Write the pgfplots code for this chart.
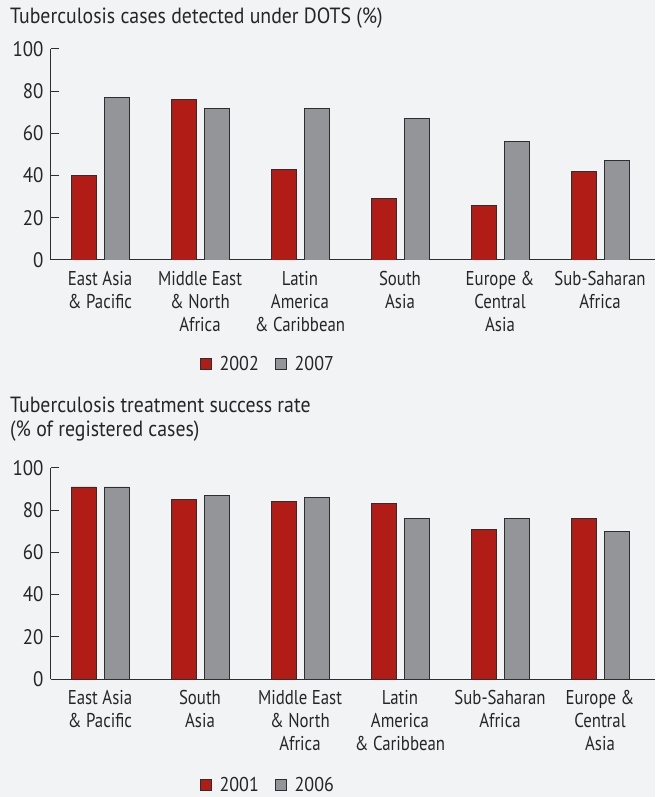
\documentclass[border=0pt]{standalone}
\usepackage{fontspec}
\setmainfont{PT Sans}[FakeStretch=0.84]
\newfontfamily\numfont{PT Sans}[FakeStretch=0.9]
\usepackage{pgfplots}
\pgfplotsset{compat=1.18}
\usepackage{pgfplotstable}

\definecolor{bg}{HTML}{F2F3F5}
\definecolor{tbred}{HTML}{B21C17}
\definecolor{tbgray}{HTML}{939598}
\definecolor{edge}{HTML}{2E2E2E}

% detection rate under DOTS (%)
\pgfplotstableread{
x y2002 y2007
0 40 77
1 76 72
2 43 72
3 29 67
4 26 56
5 42 47
}\detected

% treatment success rate (% of registered cases)
\pgfplotstableread{
x y2001 y2006
0 91 91
1 85 87
2 84 86
3 83 76
4 71 76
5 76 70
}\success

\pgfplotsset{
  tbstyle/.style={
    scale only axis, width=604pt, height=211pt,
    anchor=south west,
    xmin=-0.49, xmax=5.55, ymin=0, ymax=100,
    axis lines*=left,
    axis line style={edge, line width=1pt},
    ybar, bar width=25pt,
    xtick=data, xtick style={draw=none},
    ytick={0,20,40,60,80,100},
    tick align=inside, major tick length=8pt,
    ytick style={edge, line width=1pt},
    /pgf/number format/assume math mode=true,
    yticklabel style={font=\numfont\fontsize{21}{23}\selectfont, text=black!85, xshift=-4pt},
    xticklabel style={font=\fontsize{20}{23}\selectfont, text=black!85, align=center, yshift=-8pt},
    legend columns=2,
    legend style={draw=none, fill=none, font=\numfont\fontsize{20}{23}\selectfont,
      text=black!85, column sep=6pt, /tikz/every even column/.append style={column sep=14pt}},
    legend image code/.code={\draw[#1, ybar] (0pt,-5.5pt) rectangle (11pt,5.5pt);},
  },
  redbar/.style={fill=tbred, draw=edge, line width=0.8pt, bar shift=-16.5pt},
  graybar/.style={fill=tbgray, draw=edge, line width=0.8pt, bar shift=16.5pt},
}

\begin{document}
\begin{tikzpicture}
\fill[bg] (0,0) rectangle (655pt,797pt);

\node[anchor=base west, inner sep=0pt, font=\numfont\fontsize{22}{23}\selectfont, text=black!85]
  at (10pt,773pt) {Tuberculosis cases detected under DOTS (\%)};

\begin{axis}[tbstyle, at={(51pt,537pt)},
  xticklabels={{East Asia\\\& Pacific},{Middle East\\\& North\\Africa},{Latin\\America\\\& Caribbean},{South\\Asia},{Europe \&\\Central\\Asia},{Sub-Saharan\\Africa}},
  legend style={at={(0.359,-0.493)}, anchor=center}]
\addplot[redbar] table[x=x, y=y2002] {\detected};
\addplot[graybar] table[x=x, y=y2007] {\detected};
\legend{2002,2007}
\end{axis}

\node[anchor=base west, inner sep=0pt, font=\numfont\fontsize{22}{24}\selectfont, text=black!85, align=left]
  at (10pt,360pt) {Tuberculosis treatment success rate\\(\% of registered cases)};

\begin{axis}[tbstyle, at={(51pt,118pt)},
  xticklabels={{East Asia\\\& Pacific},{South\\Asia},{Middle East\\\& North\\Africa},{Latin\\America\\\& Caribbean},{Sub-Saharan\\Africa},{Europe \&\\Central\\Asia}},
  legend style={at={(0.359,-0.502)}, anchor=center}]
\addplot[redbar] table[x=x, y=y2001] {\success};
\addplot[graybar] table[x=x, y=y2006] {\success};
\legend{2001,2006}
\end{axis}
\end{tikzpicture}
\end{document}
